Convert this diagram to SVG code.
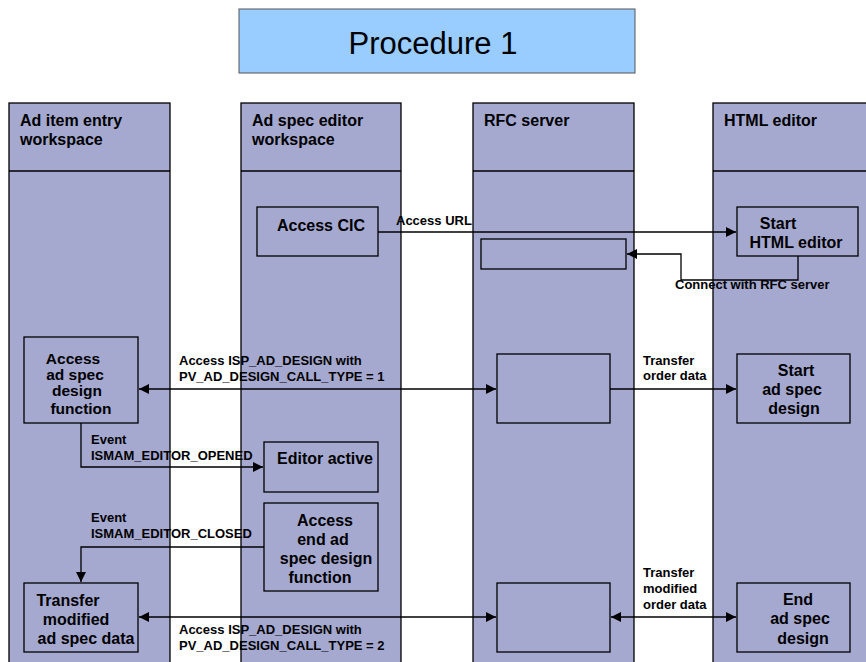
<svg xmlns="http://www.w3.org/2000/svg" width="866" height="662" viewBox="0 0 866 662">
  <defs>
    <marker id="arr" viewBox="0 0 10 10" refX="10" refY="5" markerWidth="10" markerHeight="10" markerUnits="userSpaceOnUse" orient="auto-start-reverse">
      <path d="M0,0 L10,5 L0,10 Z" fill="#000"/>
    </marker>
    <style>
      .lane { fill: #a5a9cf; stroke: #000; stroke-width: 1.3; }
      .box { fill: #a5a9cf; stroke: #000; stroke-width: 1.3; }
      .hdr { font-family: "Liberation Sans", Arial, sans-serif; font-weight: bold; font-size: 16px; fill: #000; }
      .node { font-family: "Liberation Sans", Arial, sans-serif; font-weight: bold; font-size: 16px; fill: #000; text-anchor: middle; }
      .tight { font-size: 15.5px; }
      .lbl { font-family: "Liberation Sans", Arial, sans-serif; font-weight: bold; font-size: 13px; fill: #000; }
      .con { fill: none; stroke: #000; stroke-width: 1.3; }
    </style>
  </defs>
  <rect width="866" height="662" fill="#fff"/>

  <!-- title -->
  <g id="title">
    <rect x="239" y="9" width="396" height="64" fill="#99ccff" stroke="#555" stroke-width="1"/>
    <text x="433" y="54" font-family="Liberation Sans, Arial, sans-serif" font-size="31" text-anchor="middle" fill="#000">Procedure 1</text>
  </g>

  <!-- swimlanes -->
  <g id="lane-ad-item">
    <rect class="lane" x="9" y="103" width="161" height="570"/>
    <line x1="9" y1="171" x2="170" y2="171" stroke="#000" stroke-width="1.3"/>
    <text class="hdr" x="20" y="126">Ad item entry</text>
    <text class="hdr" x="20" y="145">workspace</text>
  </g>
  <g id="lane-ad-spec">
    <rect class="lane" x="241" y="103" width="160" height="570"/>
    <line x1="241" y1="171" x2="401" y2="171" stroke="#000" stroke-width="1.3"/>
    <text class="hdr" x="252" y="126">Ad spec editor</text>
    <text class="hdr" x="252" y="145">workspace</text>
  </g>
  <g id="lane-rfc">
    <rect class="lane" x="473" y="103" width="161" height="570"/>
    <line x1="473" y1="171" x2="634" y2="171" stroke="#000" stroke-width="1.3"/>
    <text class="hdr" x="484" y="126">RFC server</text>
  </g>
  <g id="lane-html">
    <rect class="lane" x="713" y="103" width="170" height="570"/>
    <line x1="713" y1="171" x2="866" y2="171" stroke="#000" stroke-width="1.3"/>
    <text class="hdr" x="724" y="126">HTML editor</text>
  </g>

  <!-- nodes -->
  <g id="access-cic">
    <rect class="box" x="257" y="207" width="121" height="49"/>
    <text class="node" x="321" y="231">Access CIC</text>
  </g>
  <g id="start-html-editor">
    <rect class="box" x="737" y="207" width="121" height="49"/>
    <text class="node" x="778" y="229">Start</text>
    <text class="node" x="796" y="248">HTML editor</text>
  </g>
  <g id="rfc-connect">
    <rect class="box" x="481" y="239" width="145" height="30"/>
  </g>
  <g id="access-design">
    <rect class="box" x="24" y="337" width="114" height="86"/>
    <text class="node tight" x="73" y="364">Access</text>
    <text class="node tight" x="75" y="380">ad spec</text>
    <text class="node tight" x="77" y="396">design</text>
    <text class="node tight" x="81" y="414">function</text>
  </g>
  <g id="rfc-order">
    <rect class="box" x="497" y="354" width="113" height="69"/>
  </g>
  <g id="start-design">
    <rect class="box" x="737" y="354" width="113" height="69"/>
    <text class="node" x="796" y="376">Start</text>
    <text class="node" x="792" y="395">ad spec</text>
    <text class="node" x="794" y="414">design</text>
  </g>
  <g id="editor-active">
    <rect class="box" x="264" y="442" width="114" height="50"/>
    <text class="node" x="325" y="464">Editor active</text>
  </g>
  <g id="access-end-design">
    <rect class="box" x="264" y="503" width="114" height="88"/>
    <text class="node" x="325" y="526">Access</text>
    <text class="node" x="323" y="545">end ad</text>
    <text class="node" x="326" y="564">spec design</text>
    <text class="node" x="320" y="583">function</text>
  </g>
  <g id="transfer-modified">
    <rect class="box" x="24" y="583" width="114" height="69"/>
    <text class="node" x="68" y="606">Transfer</text>
    <text class="node" x="76" y="625">modified</text>
    <text class="node" x="86" y="644">ad spec data</text>
  </g>
  <g id="rfc-modified">
    <rect class="box" x="497" y="583" width="113" height="69"/>
  </g>
  <g id="end-design">
    <rect class="box" x="737" y="583" width="113" height="69"/>
    <text class="node" x="798" y="605">End</text>
    <text class="node" x="800" y="624">ad spec</text>
    <text class="node" x="803" y="644">design</text>
  </g>

  <!-- connectors -->
  <g id="connectors">
    <path class="con" d="M378,232 H736" marker-end="url(#arr)"/>
    <text class="lbl" x="396" y="225">Access URL</text>

    <path class="con" d="M798,256 V280 H681 V254 H627" marker-end="url(#arr)"/>
    <text class="lbl" x="675" y="289">Connect with RFC server</text>

    <path class="con" d="M139,389 H496" marker-start="url(#arr)" marker-end="url(#arr)"/>
    <text class="lbl" x="179" y="365">Access ISP_AD_DESIGN with</text>
    <text class="lbl" x="179" y="381">PV_AD_DESIGN_CALL_TYPE = 1</text>

    <path class="con" d="M610,389 H736" marker-end="url(#arr)"/>
    <text class="lbl" x="643" y="365">Transfer</text>
    <text class="lbl" x="643" y="380">order data</text>

    <path class="con" d="M81,423 V467 H263" marker-end="url(#arr)"/>
    <text class="lbl" x="91" y="444">Event</text>
    <text class="lbl" x="91" y="460">ISMAM_EDITOR_OPENED</text>

    <path class="con" d="M264,547 H81 V582" marker-end="url(#arr)"/>
    <text class="lbl" x="91" y="522">Event</text>
    <text class="lbl" x="91" y="538">ISMAM_EDITOR_CLOSED</text>

    <path class="con" d="M139,617 H496" marker-start="url(#arr)" marker-end="url(#arr)"/>
    <text class="lbl" x="179" y="634">Access ISP_AD_DESIGN with</text>
    <text class="lbl" x="179" y="650">PV_AD_DESIGN_CALL_TYPE = 2</text>

    <path class="con" d="M611,617 H736" marker-start="url(#arr)" marker-end="url(#arr)"/>
    <text class="lbl" x="643" y="577">Transfer</text>
    <text class="lbl" x="643" y="593">modified</text>
    <text class="lbl" x="643" y="609">order data</text>
  </g>
</svg>
